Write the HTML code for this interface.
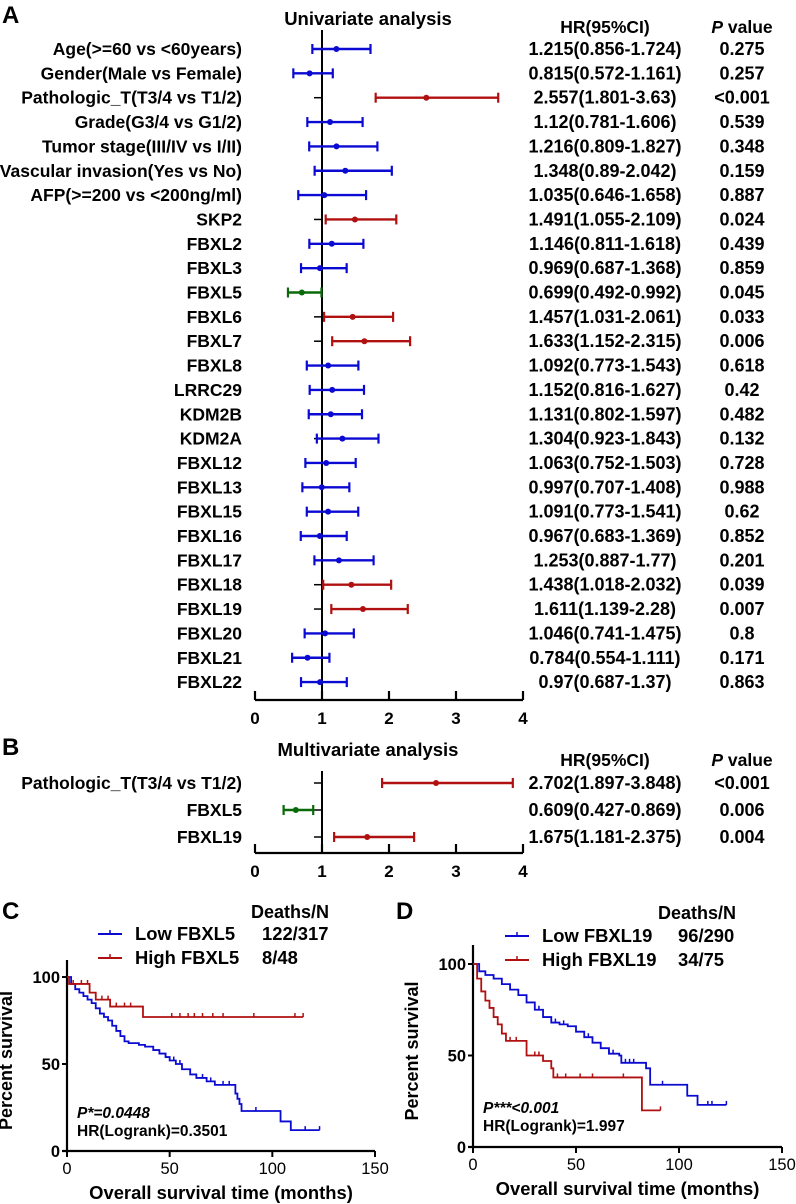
<!DOCTYPE html>
<html><head><meta charset="utf-8">
<style>
html,body{margin:0;padding:0;background:#fff;}
svg{display:block;font-family:"Liberation Sans",Arial,sans-serif;}
.b{font-weight:bold;}
</style></head>
<body>
<svg id="fig" width="796" height="1204" viewBox="0 0 796 1204" xmlns="http://www.w3.org/2000/svg">
<g id="A"></g>
<g id="B"></g>
<g id="C"></g>
<g id="D"></g>
</svg>
<script>
// ---- Forest plot data (Univariate) ----
const uniLabels = ["Age(>=60 vs <60years)","Gender(Male vs Female)","Pathologic_T(T3/4 vs T1/2)","Grade(G3/4 vs G1/2)","Tumor stage(III/IV vs I/II)","Vascular invasion(Yes vs No)","AFP(>=200 vs <200ng/ml)","SKP2","FBXL2","FBXL3","FBXL5","FBXL6","FBXL7","FBXL8","LRRC29","KDM2B","KDM2A","FBXL12","FBXL13","FBXL15","FBXL16","FBXL17","FBXL18","FBXL19","FBXL20","FBXL21","FBXL22"];
const uniHR = [1.215,0.815,2.557,1.12,1.216,1.348,1.035,1.491,1.146,0.969,0.699,1.457,1.633,1.092,1.152,1.131,1.304,1.063,0.997,1.091,0.967,1.253,1.438,1.611,1.046,0.784,0.97];
const uniLow = [0.856,0.572,1.801,0.781,0.809,0.89,0.646,1.055,0.811,0.687,0.492,1.031,1.152,0.773,0.816,0.802,0.923,0.752,0.707,0.773,0.683,0.887,1.018,1.139,0.741,0.554,0.687];
const uniHigh = [1.724,1.161,3.63,1.606,1.827,2.042,1.658,2.109,1.618,1.368,0.992,2.061,2.315,1.543,1.627,1.597,1.843,1.503,1.408,1.541,1.369,1.77,2.032,2.28,1.475,1.111,1.37];
const uniHRText = ["1.215(0.856-1.724)","0.815(0.572-1.161)","2.557(1.801-3.63)","1.12(0.781-1.606)","1.216(0.809-1.827)","1.348(0.89-2.042)","1.035(0.646-1.658)","1.491(1.055-2.109)","1.146(0.811-1.618)","0.969(0.687-1.368)","0.699(0.492-0.992)","1.457(1.031-2.061)","1.633(1.152-2.315)","1.092(0.773-1.543)","1.152(0.816-1.627)","1.131(0.802-1.597)","1.304(0.923-1.843)","1.063(0.752-1.503)","0.997(0.707-1.408)","1.091(0.773-1.541)","0.967(0.683-1.369)","1.253(0.887-1.77)","1.438(1.018-2.032)","1.611(1.139-2.28)","1.046(0.741-1.475)","0.784(0.554-1.111)","0.97(0.687-1.37)"];
const uniP = ["0.275","0.257","<0.001","0.539","0.348","0.159","0.887","0.024","0.439","0.859","0.045","0.033","0.006","0.618","0.42","0.482","0.132","0.728","0.988","0.62","0.852","0.201","0.039","0.007","0.8","0.171","0.863"];
// ---- Multivariate ----
const mulLabels = ["Pathologic_T(T3/4 vs T1/2)","FBXL5","FBXL19"];
const mulHR = [2.702,0.609,1.675];
const mulLow = [1.897,0.427,1.181];
const mulHigh = [3.848,0.869,2.375];
const mulHRText = ["2.702(1.897-3.848)","0.609(0.427-0.869)","1.675(1.181-2.375)"];
const mulP = ["<0.001","0.006","0.004"];
const forestTicks = [0,1,2,3,4];

// ---- KM data C ----
const cLowT = [0,2,4,6,8,10,12,14,16,18,20,22,24,26,28,30,35,38,42,45,48,50,53,56,60,63,68,72,80,82,83,84,85,104,109,123];
const cLowS = [100,96,93,91,89,87,85,82,79,77,75,72,69,66,63,62,61,60,58,56,54,52,50,47,44,42,40,38,38,33,30,27,23,17,12,12];
const cLowCensor = [48,52,55,60,66,70,76,79,92,116,123];
const cHighT = [0,1,11,14,21,37,115];
const cHighS = [100,96,91,87,83,77,77];
const cHighCensor = [3,7,10,17,20,24,28,31,51,55,59,62,66,71,76,91,111,115];
// ---- KM data D ----
const dLowT = [0,3,6,10,14,18,22,26,30,34,38,42,46,50,54,58,62,66,71,72,82,84,86,104,109,123];
const dLowS = [100,96,94,92,89,86,83,79,75,71,68,67,66,63,60,57,54,51,50,46,46,43,34,28,23,23];
const dLowCensor = [32,40,44,56,62,66,68,74,76,78,92,114,116,123];
const dHighT = [0,2,4,6,8,10,12,14,16,26,34,38,39,82,91];
const dHighS = [100,92,85,80,76,71,67,62,58,50,47,43,38,20,20];
const dHighCensor = [18,21,30,32,41,45,52,58,73,91];
const kmYTicks = [0,50,100];
const kmXTicks = [0,50,100,150];

const NS = "http://www.w3.org/2000/svg";
function el(parent, tag, attrs, text){
  const e = document.createElementNS(NS, tag);
  for (const k in attrs) e.setAttribute(k, attrs[k]);
  if (text !== undefined) e.textContent = text;
  parent.appendChild(e);
  return e;
}
const BLUE="#0a0ad2", RED="#b01010", GREEN="#0a6a0a";

function forest(g, cfg){
  const x = v => cfg.x0 + v * cfg.unit;
  const y = i => cfg.y0 + i * cfg.dy;
  const t = el(g,"text",{x:368,y:cfg.titleY,"text-anchor":"middle","font-size":18.5,"class":"b"},cfg.title);
  
  
  const h1 = el(g,"text",{x:605,y:cfg.headY,"text-anchor":"middle","font-size":17.5,"class":"b"},"HR(95%CI)");
  
  
  const h2 = el(g,"text",{x:742,y:cfg.headY,"text-anchor":"middle","font-size":17.5,"class":"b"});
  
  
  el(h2,"tspan",{"font-style":"italic"},"P");
  el(h2,"tspan",{},"  value");
  const ax = el(g,"line",{x1:x(1),x2:x(1),y1:cfg.vTop,y2:cfg.axisY,stroke:"#000","stroke-width":2});
  
  
  const xa = el(g,"line",{x1:x(0),x2:x(4),y1:cfg.axisY,y2:cfg.axisY,stroke:"#000","stroke-width":2.2});
  
  
  forestTicks.forEach(v=>{
    const tk = el(g,"line",{x1:x(v),x2:x(v),y1:cfg.axisY,y2:cfg.axisY-9,stroke:"#000","stroke-width":2.2});
    
    
    const tl = el(g,"text",{x:x(v),y:cfg.axisY+24,"text-anchor":"middle","font-size":17,"class":"b"},String(v));
    
    
  });
  cfg.labels.forEach((lab,i)=>{
    const yy = y(i);
    const l = el(g,"text",{x:242,y:yy+6,"text-anchor":"end","font-size":17.5,"class":"b"},lab);
    
    
    const tk = el(g,"line",{x1:x(1)-8,x2:x(1),y1:yy,y2:yy,stroke:"#000","stroke-width":1.5});
    
    
    const pNum = cfg.p[i].startsWith("<") ? 0 : parseFloat(cfg.p[i]);
    const col = pNum < 0.05 ? (cfg.hr[i] > 1 ? RED : GREEN) : BLUE;
    const eb = el(g,"g",{});
    
    
    el(eb,"line",{x1:x(cfg.lo[i]),x2:x(cfg.hi[i]),y1:yy,y2:yy,stroke:col,"stroke-width":2.4});
    el(eb,"line",{x1:x(cfg.lo[i]),x2:x(cfg.lo[i]),y1:yy-5,y2:yy+5,stroke:col,"stroke-width":2.2});
    el(eb,"line",{x1:x(cfg.hi[i]),x2:x(cfg.hi[i]),y1:yy-5,y2:yy+5,stroke:col,"stroke-width":2.2});
    el(eb,"circle",{cx:x(cfg.hr[i]),cy:yy,r:3,fill:col});
    const ht = el(g,"text",{x:605,y:yy+6,"text-anchor":"middle","font-size":18,"class":"b"},cfg.hrText[i]);
    
    
    const pt = el(g,"text",{x:742,y:yy+6,"text-anchor":"middle","font-size":18,"class":"b"},cfg.p[i]);
    
    
  });
}

const A = document.getElementById("A");
const la = el(A,"text",{x:2,y:23,"font-size":24,"class":"b"},"A");


forest(A,{x0:255,unit:67,y0:49,dy:24.35,titleY:25,headY:33,vTop:30,axisY:700,title:"Univariate analysis",
  labels:uniLabels,hr:uniHR,lo:uniLow,hi:uniHigh,hrText:uniHRText,p:uniP});

const B = document.getElementById("B");
const lb = el(B,"text",{x:2,y:755,"font-size":24,"class":"b"},"B");


forest(B,{x0:255,unit:67,y0:783,dy:27,titleY:756,headY:766,vTop:771,axisY:853,title:"Multivariate analysis",
  labels:mulLabels,hr:mulHR,lo:mulLow,hi:mulHigh,hrText:mulHRText,p:mulP});

function km(g, cfg){
  const x = v => cfg.x0 + v * (cfg.x150 - cfg.x0)/150;
  const y = v => cfg.y0 - v * (cfg.y0 - cfg.y100)/100;
  const L = el(g,"text",{x:cfg.letterX,y:cfg.letterY,"font-size":24,"class":"b"},cfg.letter);
  
  
  const dn = el(g,"text",{x:cfg.dnX,y:cfg.dnY,"font-size":18,"class":"b"},"Deaths/N");
  
  
  [[BLUE,cfg.lowName,cfg.lowN],[RED,cfg.highName,cfg.highN]].forEach((r,i)=>{
    const yy = cfg.legY + i*24;
    const lg = el(g,"g",{});
    
    
    el(lg,"line",{x1:cfg.legX,x2:cfg.legX+24,y1:yy,y2:yy,stroke:r[0],"stroke-width":2});
    el(lg,"line",{x1:cfg.legX+12,x2:cfg.legX+12,y1:yy,y2:yy-4,stroke:r[0],"stroke-width":1.5});
    el(lg,"text",{x:cfg.legX+37,y:yy+6,"font-size":18.4,"class":"b"},r[1]);
    el(lg,"text",{x:cfg.numX,y:yy+6,"font-size":18.4,"class":"b"},r[2]);
  });
  const ya = el(g,"line",{x1:cfg.x0,x2:cfg.x0,y1:cfg.yTop,y2:cfg.y0,stroke:"#000","stroke-width":2.2});
  
  
  const xa = el(g,"line",{x1:cfg.x0-5,x2:cfg.x150,y1:cfg.y0,y2:cfg.y0,stroke:"#000","stroke-width":2.2});
  
  
  kmYTicks.forEach(v=>{
    const t = el(g,"line",{x1:cfg.x0-5,x2:cfg.x0,y1:y(v),y2:y(v),stroke:"#000","stroke-width":2});
    
    
    const tl = el(g,"text",{x:cfg.x0-7,y:y(v)+6,"text-anchor":"end","font-size":16.5,"class":"b"},String(v));
    
    
  });
  kmXTicks.forEach(v=>{
    const t = el(g,"line",{x1:x(v),x2:x(v),y1:cfg.y0,y2:cfg.y0+6,stroke:"#000","stroke-width":2});
    
    
    const tl = el(g,"text",{x:x(v),y:cfg.y0+23,"text-anchor":"middle","font-size":16.5},String(v));
    
    
  });
  const xt = el(g,"text",{x:(cfg.x0+cfg.x150)/2,y:cfg.y0+48,"text-anchor":"middle","font-size":18.4,"class":"b"},"Overall survival time (months)");
  
  
  const ytx = cfg.x0-55, yty = (cfg.yTop+cfg.y0)/2+5;
  const yt = el(g,"text",{x:ytx,y:yty,"text-anchor":"middle","font-size":18,"class":"b",transform:`rotate(-90 ${ytx} ${yty})`},"Percent survival");
  
  
  function curve(T,S,C,col,name){
    let d = `M${x(T[0])},${y(S[0])}`;
    for (let i=1;i<T.length;i++){ d += `H${x(T[i])}V${y(S[i])}`; }
    const p = el(g,"path",{d:d,fill:"none",stroke:col,"stroke-width":1.8});
    
    
    C.forEach(c=>{
      let s = S[0];
      for (let i=0;i<T.length;i++){ if (T[i]<=c) s=S[i]; }
      const m = el(g,"line",{x1:x(c),x2:x(c),y1:y(s),y2:y(s)-4,stroke:col,"stroke-width":1.5});
      
      
    });
  }
  curve(cfg.lowT,cfg.lowS,cfg.lowC,BLUE,'low-expression-curve');
  curve(cfg.highT,cfg.highS,cfg.highC,RED,'high-expression-curve');
  const p1 = el(g,"text",{x:cfg.x0+10,y:cfg.pY,"font-size":15.5,"class":"b","font-style":"italic"},cfg.pText);
  
  
  const p2 = el(g,"text",{x:cfg.x0+10,y:cfg.pY+18,"font-size":15.5,"class":"b"},cfg.hrText);
  
  
}

km(document.getElementById("C"),{letter:"C",letterX:2,letterY:919,x0:67,x150:375,y0:1151,y100:977,yTop:960,
  dnX:251,dnY:918,legX:98,legY:934,numX:262,lowName:"Low FBXL5",highName:"High FBXL5",lowN:"122/317",highN:"8/48",
  lowT:cLowT,lowS:cLowS,lowC:cLowCensor,highT:cHighT,highS:cHighS,highC:cHighCensor,
  pY:1118,pText:"P*=0.0448",hrText:"HR(Logrank)=0.3501"});
km(document.getElementById("D"),{letter:"D",letterX:396,letterY:919,x0:473,x150:782,y0:1147,y100:964,yTop:945,
  dnX:658,dnY:919,legX:505,legY:936,numX:678,lowName:"Low FBXL19",highName:"High FBXL19",lowN:"96/290",highN:"34/75",
  lowT:dLowT,lowS:dLowS,lowC:dLowCensor,highT:dHighT,highS:dHighS,highC:dHighCensor,
  pY:1113,pText:"P***<0.001",hrText:"HR(Logrank)=1.997"});
</script>
</body></html>
